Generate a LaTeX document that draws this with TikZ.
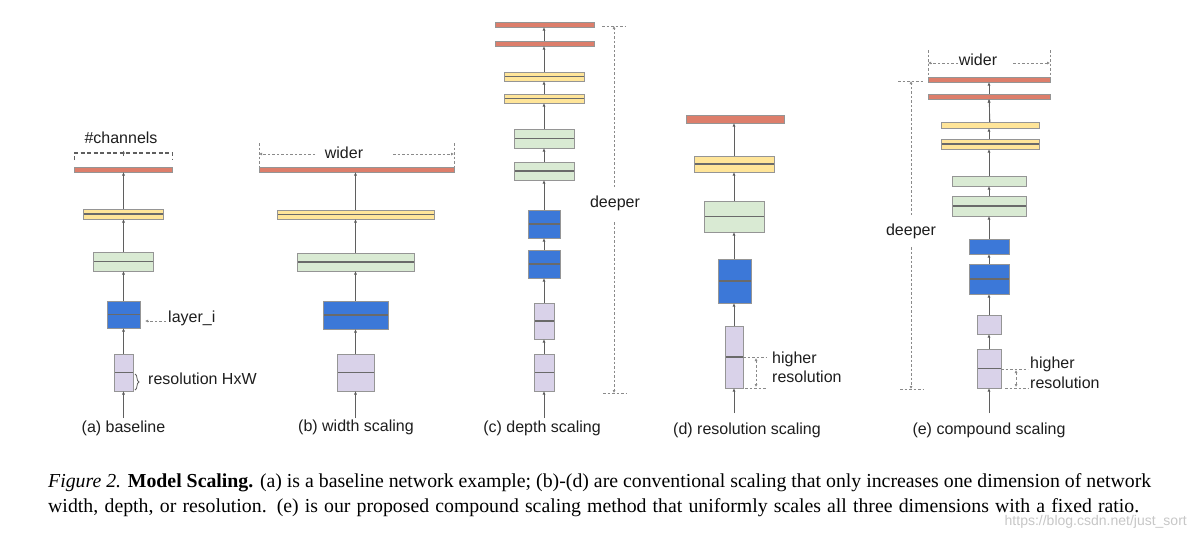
\documentclass[tikz,border=0pt]{standalone}
\usepackage{fontspec}
\setmainfont{Liberation Serif}
\newfontfamily\labf{Liberation Sans}
\usetikzlibrary{arrows.meta,decorations.pathreplacing}
\definecolor{cred}{HTML}{DD7E6B}
\definecolor{cyel}{HTML}{FFE599}
\definecolor{cgrn}{HTML}{D9EAD3}
\definecolor{cblu}{HTML}{3C78D8}
\definecolor{cpur}{HTML}{D9D2E9}
\definecolor{cbrd}{HTML}{959595}
\definecolor{cmid}{HTML}{6A6A6A}
\definecolor{carr}{HTML}{5F5F5F}
\definecolor{cann}{HTML}{8A8A8A}
\definecolor{ctxt}{HTML}{1E1E1E}
% \mkblk{name}{cx}{width}{ytop}{ybottom}{style}
\newcommand\mkblk[6]{\node[blk,#6,minimum width={(#3)*1pt},minimum height={(#5-#4)*1pt}] (#1) at (#2,{(#4+#5)/2}) {};}
\begin{document}
\begin{tikzpicture}[x=1pt,y=-1pt,
  blk/.style={draw=cbrd,line width=0.9pt,inner sep=0pt,outer sep=0pt},
  redb/.style={fill=cred},
  yelb/.style={fill=cyel},
  grnb/.style={fill=cgrn},
  blub/.style={fill=cblu},
  purb/.style={fill=cpur},
  midln/.style={path picture={\draw[cmid,line width=1.3pt] (path picture bounding box.west) -- (path picture bounding box.east);}},
  conn/.style={draw=carr,line width=0.7pt,-{Latex[length=3.5pt,width=3pt]}},
  ann/.style={draw=cann,line width=0.6pt,dash pattern=on 2.5pt off 2pt},
  atip/.style={-{Latex[length=3pt,width=3pt]}},
  btip/.style={{Latex[length=3pt,width=3pt]}-{Latex[length=3pt,width=3pt]}},
  lbl/.style={font=\labf\fontsize{16}{19}\selectfont,text=ctxt,inner sep=0pt},
]
\useasboundingbox[fill=white] (0,0) rectangle (1197,536);

% ---------------- (a) baseline ----------------
\coordinate (a0) at (123.5,418);
\mkblk{a1}{123.5}{19}{354}{391}{purb,midln}
\mkblk{a2}{123.5}{33}{301}{328}{blub,midln}
\mkblk{a3}{123.5}{60}{252}{271}{grnb,midln}
\mkblk{a4}{123.5}{80}{209}{219}{yelb,midln}
\mkblk{a5}{123.5}{98}{167}{172}{redb}
\draw[conn] (a0) -- (a1.south);
\draw[conn] (a1.north) -- (a2.south);
\draw[conn] (a2.north) -- (a3.south);
\draw[conn] (a3.north) -- (a4.south);
\draw[conn] (a4.north) -- (a5.south);
\coordinate (chL1) at (74.5,160); \coordinate (chL2) at (74.5,153);
\coordinate (chR1) at (172.5,160); \coordinate (chR2) at (172.5,153);
\draw[draw=carr,line width=1.1pt,dash pattern=on 4pt off 2.5pt] (chL1) -- (chL2) -- (chR2) -- (chR1);
\coordinate (chA1) at (123.5,156); \coordinate (chA2) at (123.5,150.5);
\draw[carr,line width=0.7pt,atip] (chA1) -- (chA2);
\node[lbl] (chtxt) at (121,138) {\#channels};
\coordinate (li1) at (166,321); \coordinate (li2) at (145,321);
\draw[ann,atip] (li1) -- (li2);
\node[lbl,anchor=west] (litxt) at (168,318) {layer\_i};
\coordinate (rb1) at (135,374); \coordinate (rb2) at (135,390);
\draw[carr,line width=0.8pt,decorate,decoration={brace,amplitude=4pt}] (rb1) -- (rb2);
\node[lbl,anchor=west] (rtxt) at (148,378.5) {resolution HxW};
\node[lbl] (la) at (123.5,428) {(a) baseline};

% ---------------- (b) width scaling ----------------
\coordinate (b0) at (355.5,418);
\mkblk{b1}{355.5}{37}{354}{391}{purb,midln}
\mkblk{b2}{355.5}{65}{301}{329}{blub,midln}
\mkblk{b3}{355.5}{117}{253}{271}{grnb,midln}
\mkblk{b4}{355.5}{157}{210}{219}{yelb,midln}
\mkblk{b5}{356.5}{195}{167}{172}{redb}
\draw[conn] (b0) -- (b1.south);
\draw[conn] (b1.north) -- (b2.south);
\draw[conn] (b2.north) -- (b3.south);
\draw[conn] (b3.north) -- (b4.south);
\draw[conn] (b4.north) -- (b4.north |- b5.south);
\coordinate (bwL1) at (259,143); \coordinate (bwL2) at (259,167);
\coordinate (bwR1) at (454,143); \coordinate (bwR2) at (454,167);
\draw[ann] (bwL1) -- (bwL2);
\draw[ann] (bwR1) -- (bwR2);
\coordinate (bwa1) at (315,154); \coordinate (bwa2) at (259,154);
\coordinate (bwb1) at (393,154); \coordinate (bwb2) at (454,154);
\draw[ann,atip] (bwa1) -- (bwa2);
\draw[ann,atip] (bwb1) -- (bwb2);
\node[lbl] (bwtxt) at (344,153) {wider};
\node[lbl] (lb) at (356,427) {(b) width scaling};

% ---------------- (c) depth scaling ----------------
\coordinate (c0) at (544,418);
\mkblk{c1}{544}{20}{354}{391}{purb,midln}
\mkblk{c2}{544}{20}{303}{339}{purb,midln}
\mkblk{c3}{544}{32}{250}{278}{blub,midln}
\mkblk{c4}{544}{32}{210}{238}{blub,midln}
\mkblk{c5}{544}{60}{162}{180}{grnb,midln}
\mkblk{c6}{544}{60}{129}{148}{grnb,midln}
\mkblk{c7}{544}{80}{94}{103}{yelb,midln}
\mkblk{c8}{544}{80}{72}{81}{yelb,midln}
\mkblk{c9}{544.5}{99}{41}{46}{redb}
\mkblk{c10}{544.5}{99}{22}{27}{redb}
\draw[conn] (c0) -- (c1.south);
\foreach \i/\j in {1/2,2/3,3/4,4/5,5/6,6/7,7/8}{\draw[conn] (c\i.north) -- (c\j.south);}
\draw[conn] (c8.north) -- (c8.north |- c9.south);
\draw[conn] (c8.north |- c9.north) -- (c8.north |- c10.south);
\coordinate (cdT1) at (602,26); \coordinate (cdT2) at (626,26);
\coordinate (cdB1) at (603,393); \coordinate (cdB2) at (627,393);
\draw[ann] (cdT1) -- (cdT2);
\draw[ann] (cdB1) -- (cdB2);
\coordinate (cdv1) at (614,187); \coordinate (cdv2) at (614,26);
\coordinate (cdv3) at (614,222); \coordinate (cdv4) at (614,393);
\draw[ann,atip] (cdv1) -- (cdv2);
\draw[ann,atip] (cdv3) -- (cdv4);
\node[lbl] (cdtxt) at (615,203) {deeper};
\node[lbl] (lc) at (542,428) {(c) depth scaling};

% ---------------- (d) resolution scaling ----------------
\coordinate (d0) at (734,413);
\mkblk{d1}{734}{18}{326}{388}{purb,midln}
\mkblk{d2}{734.5}{33}{259}{303}{blub,midln}
\mkblk{d3}{734}{60}{201}{232}{grnb,midln}
\mkblk{d4}{734}{80}{156}{172}{yelb,midln}
\mkblk{d5}{735}{98}{115}{123}{redb}
\draw[conn] (d0) -- (d1.south);
\draw[conn] (d1.north) -- (d1.north |- d2.south);
\draw[conn] (d1.north |- d2.north) -- (d1.north |- d3.south);
\draw[conn] (d3.north) -- (d4.south);
\draw[conn] (d4.north) -- (d4.north |- d5.south);
\coordinate (dh1) at (743,357); \coordinate (dh2) at (767,357);
\coordinate (dh3) at (745,388); \coordinate (dh4) at (767,388);
\draw[ann] (dh1) -- (dh2);
\draw[ann] (dh3) -- (dh4);
\coordinate (dv1) at (756,358); \coordinate (dv2) at (756,387);
\draw[ann,btip] (dv1) -- (dv2);
\node[lbl,anchor=west,align=left] (dtxt) at (772,367.5) {higher\\resolution};
\node[lbl] (ld) at (747,430) {(d) resolution scaling};

% ---------------- (e) compound scaling ----------------
\coordinate (e0) at (989,413);
\mkblk{e1}{989}{24}{349}{388}{purb,midln}
\mkblk{e2}{989}{24}{315}{334}{purb}
\mkblk{e3}{989}{40}{264}{294}{blub,midln}
\mkblk{e4}{989}{40}{239}{254}{blub}
\mkblk{e5}{989}{74}{196}{216}{grnb,midln}
\mkblk{e6}{989}{74}{176}{186}{grnb}
\mkblk{e7}{990}{98}{139}{149}{yelb,midln}
\mkblk{e8}{990}{98}{122}{128}{yelb}
\mkblk{e9}{989}{122}{94}{99}{redb}
\mkblk{e10}{989}{122}{77}{82}{redb}
\draw[conn] (e0) -- (e1.south);
\foreach \i/\j in {1/2,2/3,3/4,4/5,5/6,8/9,9/10}{\draw[conn] (e\i.north) -- (e\j.south);}
\draw[conn] (e6.north) -- (e6.north |- e7.south);
\draw[conn] (e6.north |- e7.north) -- (e6.north |- e8.south);
\draw[conn] (e6.north |- e8.north) -- (e6.north |- e9.south);
% wider
\coordinate (ewL1) at (928,50); \coordinate (ewL2) at (928,77);
\coordinate (ewR1) at (1050,50); \coordinate (ewR2) at (1050,77);
\draw[ann] (ewL1) -- (ewL2);
\draw[ann] (ewR1) -- (ewR2);
\coordinate (ewa1) at (958,63); \coordinate (ewa2) at (928,63);
\coordinate (ewb1) at (1013,63); \coordinate (ewb2) at (1050,63);
\draw[ann,atip] (ewa1) -- (ewa2);
\draw[ann,atip] (ewb1) -- (ewb2);
\node[lbl] (ewtxt) at (978,60) {wider};
% deeper
\coordinate (edT1) at (898,81); \coordinate (edT2) at (924,81);
\coordinate (edB1) at (900,389); \coordinate (edB2) at (924,389);
\draw[ann] (edT1) -- (edT2);
\draw[ann] (edB1) -- (edB2);
\coordinate (edv1) at (911,215); \coordinate (edv2) at (911,81);
\coordinate (edv3) at (911,247); \coordinate (edv4) at (911,389);
\draw[ann,atip] (edv1) -- (edv2);
\draw[ann,atip] (edv3) -- (edv4);
\node[lbl] (edtxt) at (911,231) {deeper};
% higher resolution
\coordinate (eh1) at (1001,369); \coordinate (eh2) at (1028,369);
\coordinate (eh3) at (1005,388); \coordinate (eh4) at (1028,388);
\draw[ann] (eh1) -- (eh2);
\draw[ann] (eh3) -- (eh4);
\coordinate (ev1) at (1016,370); \coordinate (ev2) at (1016,387);
\draw[ann,btip] (ev1) -- (ev2);
\node[lbl,anchor=west,align=left,font=\labf\fontsize{16}{20}\selectfont] (etxt) at (1030,373) {higher\\resolution};
\node[lbl] (le) at (989,430) {(e) compound scaling};

% ---------------- caption ----------------
\node[anchor=north west,align=left,inner sep=0pt,text=black,font=\fontsize{19.8}{25}\selectfont] (cap) at (48,473)
{\makebox[1103pt][s]{\textit{Figure 2.} \textbf{Model Scaling.} (a) is a baseline network example; (b)-(d) are conventional scaling that only increases one dimension of network}\\
\makebox[1091pt][s]{width, depth, or resolution. (e) is our proposed compound scaling method that uniformly scales all three dimensions with a fixed ratio.}};
\node[anchor=east,inner sep=0pt,text=black!22,font=\labf\fontsize{14}{14}\selectfont] (wm) at (1187,522) {https://blog.csdn.net/just\_sort};
\end{tikzpicture}
\end{document}
